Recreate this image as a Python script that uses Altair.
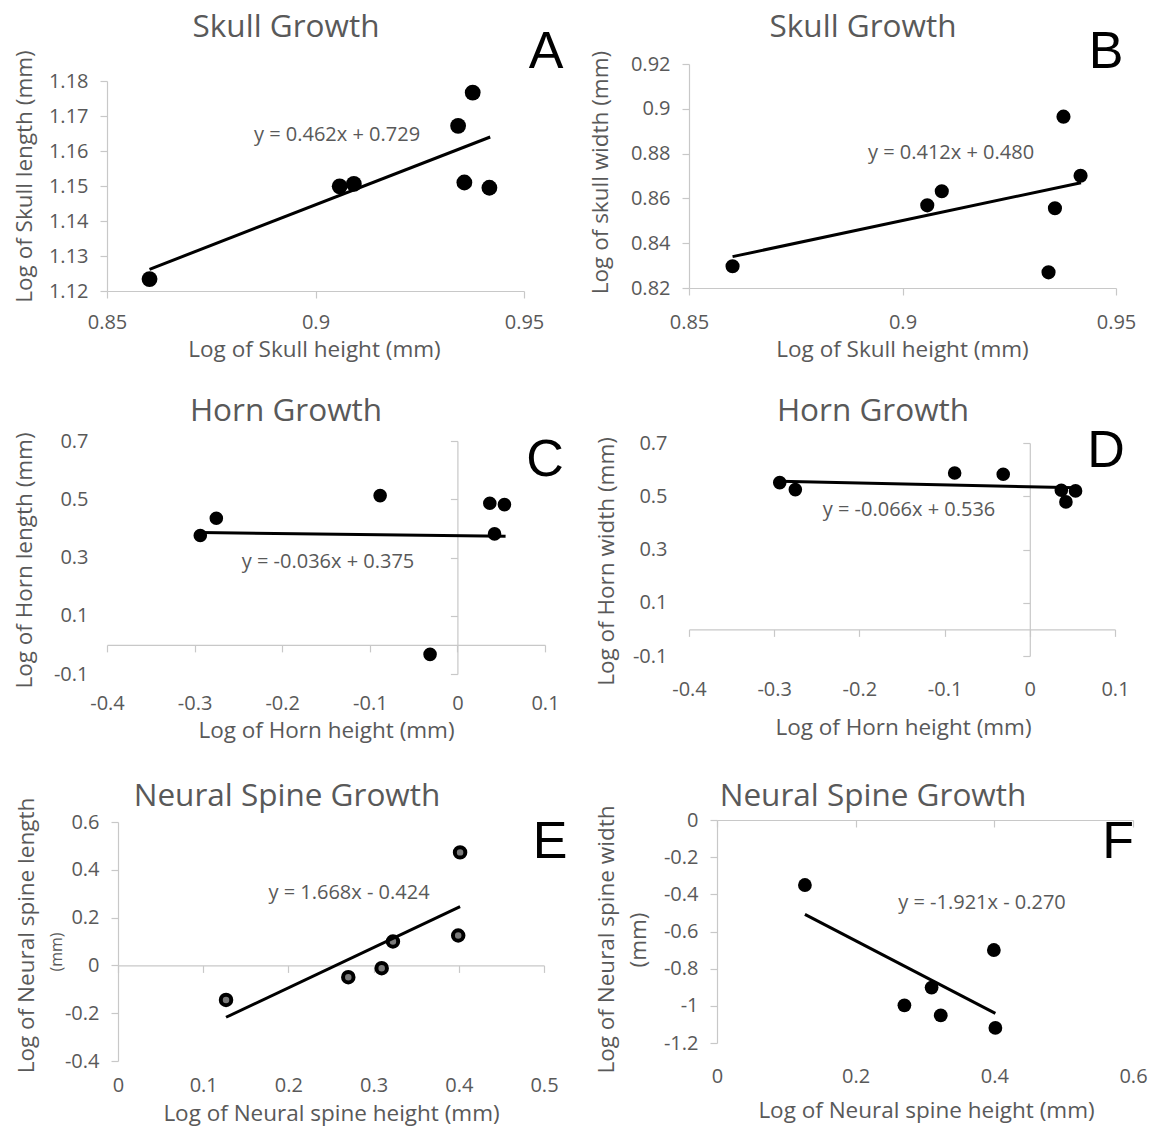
import altair as alt
import pandas as pd

# ---------------- data ----------------
skull_height = [0.8602, 0.9058, 0.9092, 0.9342, 0.9357, 0.9377, 0.9417]
skull_length = [1.1234, 1.1499, 1.1506, 1.1672, 1.1510, 1.1767, 1.1495]
skull_width = [0.8297, 0.8569, 0.8632, 0.8270, 0.8556, 0.8965, 0.8701]

horn_height = [-0.2935, -0.2752, -0.0882, -0.0312, 0.0370, 0.0424, 0.0537]
horn_length = [0.3754, 0.4349, 0.5126, -0.0326, 0.4863, 0.3811, 0.4817]
horn_width = [0.5513, 0.5250, 0.5875, 0.5825, 0.5225, 0.4788, 0.5200]

spine_height = [0.1268, 0.2703, 0.3095, 0.3227, 0.3993, 0.4015]
spine_length = [-0.1444, -0.0494, -0.0117, 0.1000, 0.1251, 0.4729]
spine_width = [-0.3498, -0.9970, -0.9020, -1.0510, -0.6996, -1.1190]

# trend-line end points
trend_a_x = [0.8602, 0.9419]
trend_a_y = [1.1262, 1.1640]
trend_b_x = [0.8602, 0.9418]
trend_b_y = [0.8340, 0.8670]
trend_c_x = [-0.2935, 0.0550]
trend_c_y = [0.3855, 0.3730]
trend_d_x = [-0.2935, 0.0550]
trend_d_y = [0.5560, 0.5320]
trend_e_x = [0.1268, 0.4015]
trend_e_y = [-0.2170, 0.2460]
trend_f_x = [0.1268, 0.4015]
trend_f_y = [-0.5080, -1.0410]

equations = ["y = 0.462x + 0.729", "y = 0.412x + 0.480", "y = -0.036x + 0.375",
             "y = -0.066x + 0.536", "y = 1.668x - 0.424", "y = -1.921x - 0.270"]
titles = ["Skull Growth", "Skull Growth", "Horn Growth", "Horn Growth",
          "Neural Spine Growth", "Neural Spine Growth"]
letters = ["A", "B", "C", "D", "E", "F"]

ticks_skull_x = [0.85, 0.9, 0.95]
ticks_a_y = [1.12, 1.13, 1.14, 1.15, 1.16, 1.17, 1.18]
ticks_b_y = [0.82, 0.84, 0.86, 0.88, 0.9, 0.92]
ticks_horn_x = [-0.4, -0.3, -0.2, -0.1, 0, 0.1]
ticks_horn_y = [-0.1, 0.1, 0.3, 0.5, 0.7]
ticks_e_x = [0, 0.1, 0.2, 0.3, 0.4, 0.5]
ticks_e_y = [-0.4, -0.2, 0, 0.2, 0.4, 0.6]
ticks_f_x = [0, 0.2, 0.4, 0.6]
ticks_f_y = [-1.2, -1, -0.8, -0.6, -0.4, -0.2, 0]

# ---------------- styling / layout ----------------
W, H = 1156, 1130
GRAY = "#595959"
AXIS = "#c8c8c8"
FONT = "Open Sans"
TICK = 7
LABEL_FS = 20
TITLE_FS = 22.5
DUMMY = pd.DataFrame({"k": [0]})


def lin(v, dom, rng):
    return rng[0] + (v - dom[0]) / (dom[1] - dom[0]) * (rng[1] - rng[0])


def panel(xs, ys, tx, ty, p):
    xdom, ydom, xr, yr = p["xdom"], p["ydom"], p["xr"], p["yr"]
    ax_y = lin(p["y_at"], ydom, yr)
    ax_x = lin(p["x_at"], xdom, xr)
    xlab_top = p["xlab_cy"] - 0.433 * LABEL_FS
    common = dict(grid=False, domainColor=AXIS, domainWidth=1.2, tickColor=AXIS,
                  tickSize=TICK, tickWidth=1.2, labelColor=GRAY, labelFont=FONT,
                  labelFontSize=LABEL_FS, labelFlush=False, labelOverlap=False,
                  labelExpr="toString(datum.value)", titleColor=GRAY, titleFont=FONT,
                  titleFontSize=TITLE_FS, titleFontWeight="normal",
                  titleAlign="center", titleBaseline="middle")
    xaxis = alt.Axis(orient="bottom", offset=ax_y - H, values=p["xticks"],
                     labelPadding=xlab_top - ax_y - TICK, title=p["xtitle"],
                     titleX=p["xt_pos"][0], titleY=p["xt_pos"][1] - ax_y, titleAngle=0,
                     **common)
    yaxis = alt.Axis(orient="left", offset=-ax_x, values=p["yticks"],
                     labelPadding=ax_x - p["ylab_rx"] - TICK, title=p["ytitle"],
                     titleX=p["yt_pos"][0] - ax_x, titleY=p["yt_pos"][1], titleAngle=270,
                     **common)
    X = alt.X("x:Q", scale=alt.Scale(domain=xdom, range=xr, nice=False, zero=False), axis=xaxis)
    Y = alt.Y("y:Q", scale=alt.Scale(domain=ydom, range=yr, nice=False, zero=False), axis=yaxis)
    if p.get("ring"):
        pts = alt.Chart(pd.DataFrame({"x": xs, "y": ys})).mark_circle(
            size=p["size"], color="#7a7a7a", opacity=1, stroke="black", strokeWidth=4)
    else:
        pts = alt.Chart(pd.DataFrame({"x": xs, "y": ys})).mark_circle(
            size=p["size"], color="black", opacity=1)
    pts = pts.encode(x=X, y=Y)
    trend = alt.Chart(pd.DataFrame({"x": tx, "y": ty})).mark_line(
        color="black", strokeWidth=3).encode(x=X, y=Y)
    return alt.layer(pts, trend)


def text(t, x, y, size, color=GRAY, font=FONT, angle=0, baseline="middle"):
    return alt.Chart(DUMMY).mark_text(
        fontSize=size, font=font, color=color, angle=angle, baseline=baseline,
        align="center").encode(x=alt.value(x), y=alt.value(y), text=alt.value(t))


specs = [
    dict(xdom=[0.85, 0.95], ydom=[1.12, 1.18], xr=[107, 524], yr=[291, 81],
         x_at=0.85, y_at=1.12, xticks=ticks_skull_x, yticks=ticks_a_y,
         xlab_cy=321, ylab_rx=88, xtitle="Log of Skull height (mm)", xt_pos=(314, 349),
         ytitle="Log of Skull length (mm)", yt_pos=(24, 176), size=250,
         title_pos=(286, 28), letter_pos=(546, 68), eq_pos=(337, 135)),
    dict(xdom=[0.85, 0.95], ydom=[0.82, 0.92], xr=[689, 1116], yr=[288, 64],
         x_at=0.85, y_at=0.82, xticks=ticks_skull_x, yticks=ticks_b_y,
         xlab_cy=321, ylab_rx=670, xtitle="Log of Skull height (mm)", xt_pos=(902, 349),
         ytitle="Log of skull width (mm)", yt_pos=(600, 172), size=200,
         title_pos=(863, 28), letter_pos=(1106, 68), eq_pos=(951, 153)),
    dict(xdom=[-0.4, 0.1], ydom=[-0.1, 0.7], xr=[107, 545], yr=[674, 441],
         x_at=0, y_at=0, xticks=ticks_horn_x, yticks=ticks_horn_y,
         xlab_cy=702, ylab_rx=88, xtitle="Log of Horn height (mm)", xt_pos=(326, 730),
         ytitle="Log of Horn length (mm)", yt_pos=(24, 560), size=185,
         title_pos=(286, 412), letter_pos=(545, 476), eq_pos=(328, 562)),
    dict(xdom=[-0.4, 0.1], ydom=[-0.1, 0.7], xr=[689, 1115], yr=[656, 443],
         x_at=0, y_at=0, xticks=ticks_horn_x, yticks=ticks_horn_y,
         xlab_cy=688, ylab_rx=667, xtitle="Log of Horn height (mm)", xt_pos=(903, 727),
         ytitle="Log of Horn width (mm)", yt_pos=(606, 561), size=185,
         title_pos=(873, 412), letter_pos=(1106, 467), eq_pos=(909, 510)),
    dict(xdom=[0, 0.5], ydom=[-0.4, 0.6], xr=[118, 544], yr=[1061, 822],
         x_at=0, y_at=0, xticks=ticks_e_x, yticks=ticks_e_y,
         xlab_cy=1084, ylab_rx=99, xtitle="Log of Neural spine height (mm)", xt_pos=(331, 1113),
         ytitle="Log of Neural spine length", yt_pos=(26, 935), size=110, ring=True,
         title_pos=(287, 797), letter_pos=(550, 858), eq_pos=(349, 893)),
    dict(xdom=[0, 0.6], ydom=[-1.2, 0], xr=[717, 1133], yr=[1043, 820],
         x_at=0, y_at=0, xticks=ticks_f_x, yticks=ticks_f_y,
         xlab_cy=1075, ylab_rx=698, xtitle="Log of Neural spine height (mm)", xt_pos=(926, 1110),
         ytitle="Log of Neural spine width", yt_pos=(606, 939), size=190,
         title_pos=(873, 797), letter_pos=(1118, 858), eq_pos=(982, 903)),
]

series = [
    (skull_height, skull_length, trend_a_x, trend_a_y),
    (skull_height, skull_width, trend_b_x, trend_b_y),
    (horn_height, horn_length, trend_c_x, trend_c_y),
    (horn_height, horn_width, trend_d_x, trend_d_y),
    (spine_height, spine_length, trend_e_x, trend_e_y),
    (spine_height, spine_width, trend_f_x, trend_f_y),
]

layers = []
for (xs, ys, tx, ty), p in zip(series, specs):
    layers.append(panel(xs, ys, tx, ty, p))

annotations = []
for i, p in enumerate(specs):
    annotations.append(text(titles[i], p["title_pos"][0], p["title_pos"][1], 31.5))
    annotations.append(text(letters[i], p["letter_pos"][0], p["letter_pos"][1], 52,
                            color="black", font="Liberation Sans", baseline="alphabetic"))
    annotations.append(text(equations[i], p["eq_pos"][0], p["eq_pos"][1], 20))
# second line of the two-line y titles
annotations.append(text("(mm)", 57, 952, 16, angle=270))
annotations.append(text("(mm)", 639, 940, TITLE_FS, angle=270))

chart = alt.layer(*layers, *annotations).resolve_scale(
    x="independent", y="independent"
).properties(
    width=W, height=H, padding=0, autosize=alt.AutoSizeParams(type="none")
).configure_view(strokeWidth=0)

chart.save("out.html", embed_options={"renderer": "svg", "actions": False})
